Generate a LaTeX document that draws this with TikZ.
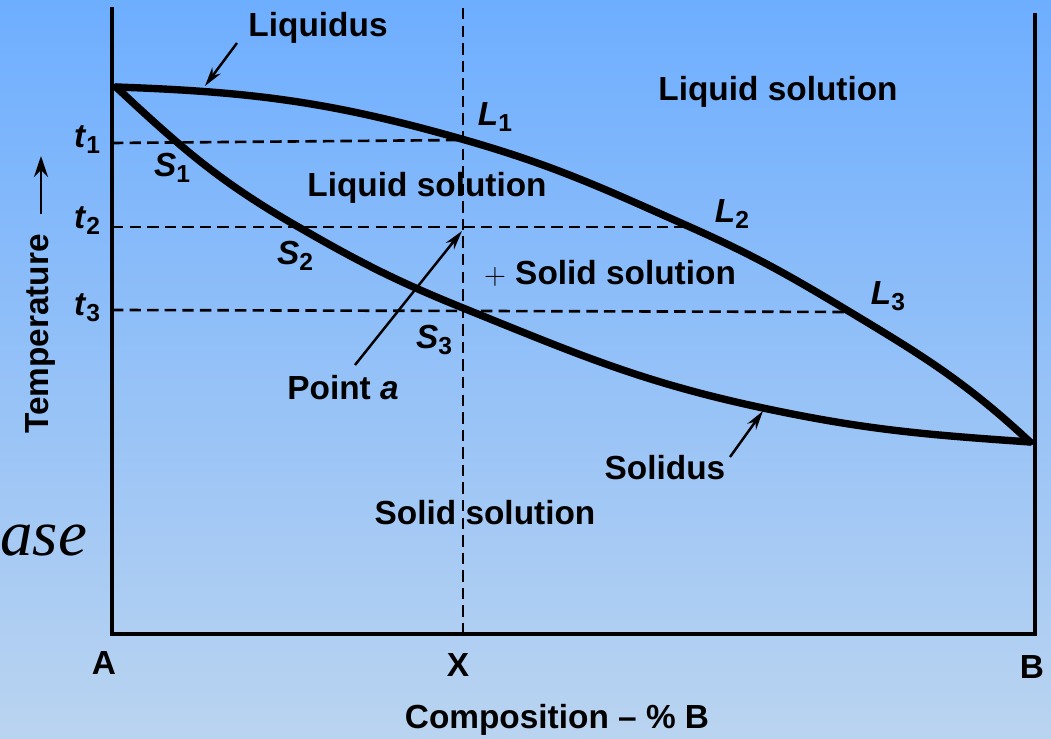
\documentclass[tikz,border=0pt]{standalone}
\usepackage{fontspec}
\setmainfont{Liberation Sans}
\newfontfamily\slidefont{Liberation Serif}
\usetikzlibrary{arrows.meta}
\definecolor{bgtop}{RGB}{110,174,255}
\definecolor{bgbottom}{RGB}{186,212,240}
\newcommand{\sublbl}[2]{\textit{#1}\raisebox{-0.35ex}{\fontsize{14}{14}\selectfont #2}}

\begin{document}
\begin{tikzpicture}[x=0.02cm, y=-0.02cm,
        lbl/.style={font=\fontsize{19}{21}\selectfont\bfseries, inner sep=0pt},
        axis/.style={line width=2.3pt, line join=miter},
        curve/.style={line width=4.2pt, line join=round, line cap=round},
        guide/.style={line width=1.5pt, dash pattern=on 6.5pt off 3.5pt},
        pointer/.style={line width=1.4pt, -{Stealth[length=11pt,width=6pt]}}
      ]
        \fill[top color=bgtop, bottom color=bgbottom] (0,0) rectangle (1051,739);
        \useasboundingbox (0,0) rectangle (1051,739);

        % key points
        \coordinate (A) at (116,87);
        \coordinate (B) at (1030,442);
        \coordinate (L1) at (465,140);
        \coordinate (L2) at (690,227);
        \coordinate (L3) at (850,312);
        \coordinate (S2) at (295,225);
        \coordinate (S3) at (463,308);
        \coordinate (S4) at (763,408);
        \coordinate (pta) at (462,231);

        % axes and isotherms
        \draw[axis] (112,7) -- (112,634) -- (1035,634) -- (1035,13);
        \draw[guide] (463,8) -- (463,634);
        \draw[guide] (112,143) -- (L1);
        \draw[guide] (112,227) -- (L2);
        \draw[guide] (112,310) -- (L3);

        % liquidus and solidus
        \draw[curve] (A) to[out=-2,in=164] (L1) to[out=-16,in=156] (L2)
              to[out=-24,in=149] (L3) to[out=-31,in=137] (B);
        \draw[curve] (A) to[out=-43,in=150] (S2) to[out=-30,in=158] (S3)
              to[out=-22,in=168] (S4) to[out=-12,in=176] (B);

        % labels
        \node[lbl] (liqlbl) at (318,28) {Liquidus};
        \node[lbl] (liqtop) at (778,92) {Liquid solution};
        \node[lbl] (liqmid) at (427,188) {Liquid solution};
        \node[lbl] (twophase) at (610,273) {$+$ Solid solution};
        \node[lbl] (pointlbl) at (343,388) {Point \textit{a}};
        \node[lbl] (sollbl) at (665,468) {Solidus};
        \node[lbl] (solid) at (485,513) {Solid solution};
        \node[lbl] (t1) at (87,140) {\sublbl{t}{1}};
        \node[lbl] (t2) at (87,221) {\sublbl{t}{2}};
        \node[lbl] (t3) at (87,308) {\sublbl{t}{3}};
        \node[lbl] (s1) at (172,168) {\sublbl{S}{1}};
        \node[lbl] (s2) at (295,256) {\sublbl{S}{2}};
        \node[lbl] (s3) at (434,340) {\sublbl{S}{3}};
        \node[lbl] (l1) at (495,117) {\sublbl{L}{1}};
        \node[lbl] (l2) at (732,214) {\sublbl{L}{2}};
        \node[lbl] (l3) at (888,296) {\sublbl{L}{3}};
        \node[lbl] (endA) at (104,663) {A};
        \node[lbl] (endX) at (458,665) {X};
        \node[lbl] (endB) at (1032,667) {B};
        \node[lbl] (comp) at (557,720) {Composition -- \% B};
        \node[lbl, rotate=90] (temp) at (40,334) {Temperature};
        \node[anchor=base west, inner sep=0pt,
              font=\slidefont\itshape\fontsize{37}{40}\selectfont] (slide) at (0,555) {ase};

        % pointers
        \coordinate (temptail) at (41,214);
        \coordinate (temptip) at (41,156);
        \coordinate (liqtail) at (237,43);
        \coordinate (atail) at (355,365);
        \coordinate (soltail) at (730,457);
        \draw[pointer, -{Stealth[length=12pt,width=8pt]}] (temptail) -- (temptip);
        \draw[pointer] (liqtail) -- (205,86);
        \draw[pointer] (atail) -- (pta);
        \draw[pointer] (soltail) -- (763,411);
      \end{tikzpicture}
\end{document}
